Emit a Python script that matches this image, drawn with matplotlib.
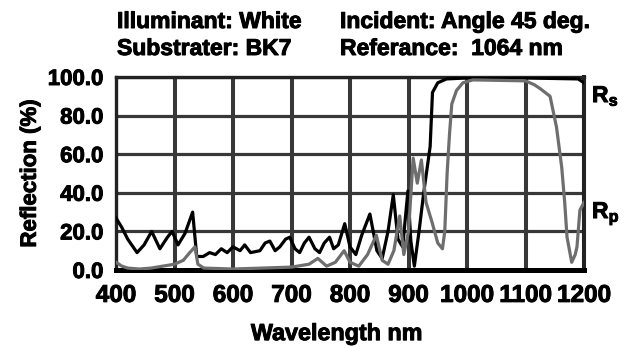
import matplotlib
matplotlib.use("Agg")
import matplotlib.pyplot as plt
import matplotlib.patheffects as pe

plt.rcParams['font.family'] = ['Liberation Sans', 'DejaVu Sans']
plt.rcParams['mathtext.fontset'] = 'custom'
plt.rcParams['mathtext.bf'] = 'Liberation Sans:bold'
plt.rcParams['mathtext.rm'] = 'Liberation Sans:bold'
plt.rcParams['mathtext.it'] = 'Liberation Sans:bold'

# Rs (s-polarisation), black
rs_wl = [400, 410, 420, 436, 448, 461, 475, 488, 496, 506, 518, 531, 538, 549,
         560, 570, 580, 590, 600, 612, 620, 630, 646, 655, 663, 672, 680, 690,
         697, 706, 714, 722, 730, 740, 748, 756, 765, 772, 780, 791, 800, 810,
         820, 834, 846, 855, 865, 874, 882, 890, 899, 904, 910, 918, 926, 937,
         941, 950, 965, 1000, 1100, 1190, 1200]
rs_val = [27, 22, 16, 9, 13, 20, 11, 17, 20, 13, 19, 30, 7, 7,
          9, 8, 11, 9, 12, 10, 13, 9, 10, 14, 15, 10, 12, 16,
          17, 11, 9, 14, 17, 11, 9, 14, 17, 11, 13, 24, 12, 8,
          18, 29, 10, 6, 20, 39, 16, 12, 41, 15, 2, 20, 40, 64,
          92, 97, 99, 99.5, 99.5, 99, 97]

# Rp (p-polarisation), grey
rp_wl = [400, 410, 420, 440, 460, 480, 500, 515, 526, 535, 540, 550, 600, 650,
         700, 730, 745, 760, 775, 790, 800, 815, 830, 845, 855, 865, 875, 885,
         892, 900, 908, 915, 922, 930, 940, 950, 958, 962, 966, 970, 974, 982,
         993, 1010, 1100, 1115, 1125, 1142, 1153, 1162, 1167, 1171, 1179, 1185,
         1188, 1193, 1200]
rp_val = [4, 2, 1, 0.5, 1, 2, 3, 5, 9, 12, 3, 1, 0.5, 1,
          1.5, 3, 6, 2, 4, 10, 4, 2, 8, 18, 5, 3, 10, 28,
          8, 20, 58, 45, 57, 35, 25, 14, 11, 20, 50, 70, 86, 93,
          97, 98.5, 98, 96, 94, 90, 74, 53, 35, 17, 4, 8,
          12, 31, 35]

x_ticks = [400, 500, 600, 700, 800, 900, 1000, 1100, 1200]
y_ticks = [0, 20, 40, 60, 80, 100]
y_ticklabels = ['0.0', '20.0', '40.0', '60.0', '80.0', '100.0']

heavy = [pe.withStroke(linewidth=0.7, foreground='black')]

fig = plt.figure(figsize=(6.39, 3.48), dpi=100)
ax = fig.add_axes([116/639, 78/348, 468/639, 193/348])

ax.plot(rs_wl, rs_val, color='black', lw=2.3, zorder=3, solid_joinstyle='round')
ax.plot(rp_wl, rp_val, color='#6e6e6e', lw=2.3, zorder=3, solid_joinstyle='round')

ax.set_xlim(400, 1200)
ax.set_ylim(0, 100)
ax.set_xticks(x_ticks)
ax.set_xticklabels([str(v) for v in x_ticks])
ax.set_yticks(y_ticks)
ax.set_yticklabels(y_ticklabels)
ax.xaxis.grid(True, color='#383838', lw=2.9, zorder=1)
ax.yaxis.grid(True, color='#383838', lw=2.3, zorder=1)
ax.set_axisbelow(True)
ax.tick_params(axis='both', length=0)
ax.tick_params(axis='x', pad=10, labelsize=17.5)
ax.tick_params(axis='y', pad=9, labelsize=16)
for lab in ax.get_xticklabels() + ax.get_yticklabels():
    lab.set_fontweight('bold')
    lab.set_path_effects(heavy)

for side in ['left', 'top']:
    ax.spines[side].set_linewidth(2.4)
    ax.spines[side].set_color('#222222')
ax.spines['right'].set_linewidth(2.9)
ax.spines['right'].set_color('#222222')
ax.spines['bottom'].set_linewidth(3.6)
ax.spines['bottom'].set_color('black')

ax.set_ylabel('Reflection (%)', fontsize=16, fontweight='bold', labelpad=5,
              path_effects=heavy)
ax.set_xlabel('Wavelength nm', fontsize=16.8, fontweight='bold', path_effects=heavy)
ax.xaxis.set_label_coords(0.472, -0.27)

ax.text(1.017, 0.87, r'$\mathbf{R_s}$', transform=ax.transAxes, fontsize=16.5,
        va='baseline', ha='left', path_effects=heavy)
ax.text(1.017, 0.269, r'$\mathbf{R_p}$', transform=ax.transAxes, fontsize=16.5,
        va='baseline', ha='left', path_effects=heavy)

for x, y, s in [(117, 28, 'Illuminant: White'),
                (340, 28, 'Incident: Angle 45 deg.'),
                (117, 55, 'Substrater: BK7'),
                (340, 55, 'Referance:  1064 nm')]:
    fig.text(x/639, 1 - y/348, s, fontsize=16.5, fontweight='bold',
             ha='left', va='baseline', path_effects=heavy)

fig.savefig('out.png', dpi=100)
